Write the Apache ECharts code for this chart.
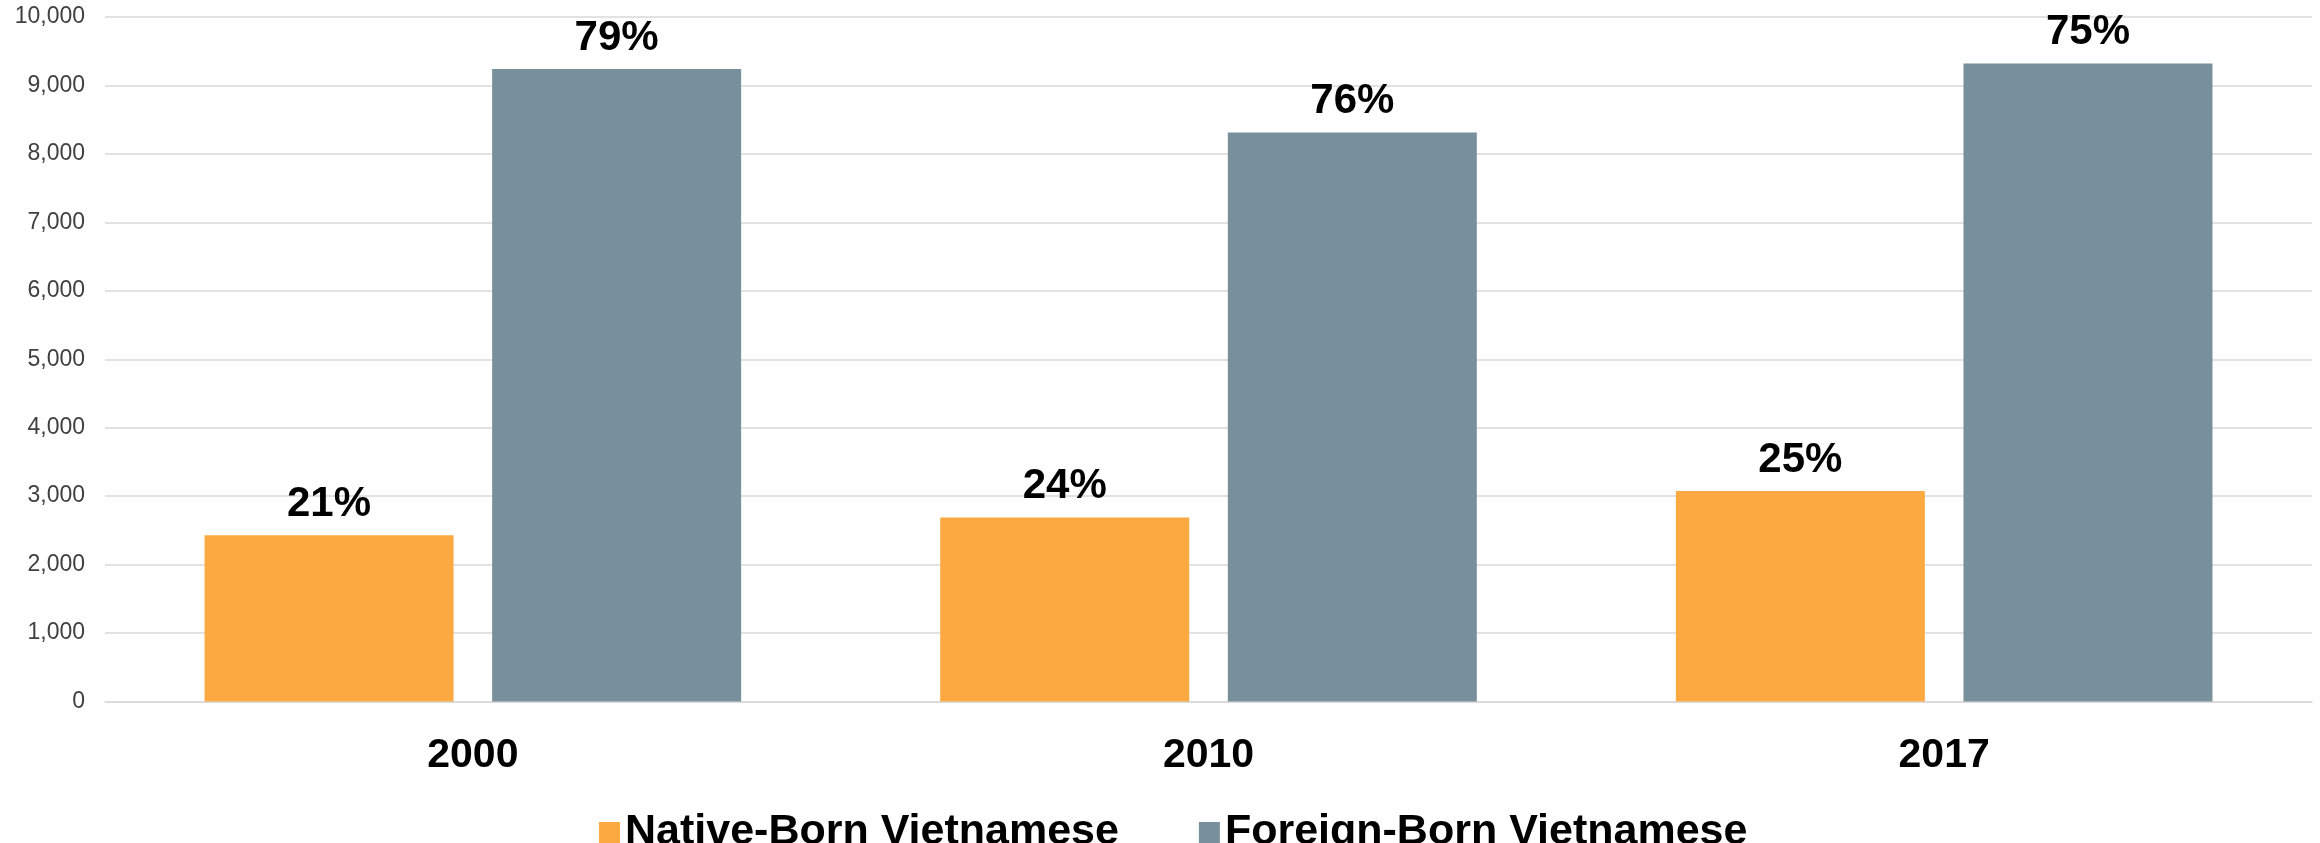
<!DOCTYPE html>
<html>
<head>
<meta charset="utf-8">
<script src="https://cdn.jsdelivr.net/npm/echarts@6/dist/echarts.min.js"></script>
<style>
  html, body { margin: 0; padding: 0; background: #fff; }
  #main { width: 2320px; height: 843px; }
</style>
</head>
<body>
<div id="main"></div>
<script>
var years = ['2000', '2010', '2017'];
var nativeBorn = [2428, 2687, 3076];
var foreignBorn = [9240, 8312, 9322];
var nativeShare = ['21%', '24%', '25%'];
var foreignShare = ['79%', '76%', '75%'];

var chartDom = document.getElementById('main');
var myChart = echarts.init(chartDom);
var font = 'Liberation Sans, Arial, sans-serif';

var barLabel = function (shares) {
    return {
        show: true,
        position: 'top',
        distance: 10,
        fontFamily: font,
        fontSize: 42,
        fontWeight: 'bold',
        color: '#000',
        formatter: function (p) { return shares[p.dataIndex]; }
    };
};

var option = {
    animation: false,
    backgroundColor: '#fff',
    grid: { left: 105, right: 8, top: 17, bottom: 141.5 },
    legend: {
        left: 594,
        top: 806,
        itemWidth: 21,
        itemHeight: 21,
        itemGap: 80,
        icon: 'rect',
        textStyle: { fontFamily: font, fontSize: 43, fontWeight: 'bold', color: '#000' },
        data: ['Native-Born Vietnamese', 'Foreign-Born Vietnamese']
    },
    xAxis: {
        type: 'category',
        data: years,
        axisTick: { show: false },
        axisLine: { lineStyle: { color: '#d9d9d9', width: 1.5 } },
        axisLabel: { margin: 34, fontFamily: font, fontSize: 41, fontWeight: 'bold', color: '#000' }
    },
    yAxis: {
        type: 'value',
        min: 0,
        max: 10000,
        interval: 1000,
        axisLine: { show: false },
        axisTick: { show: false },
        splitLine: { lineStyle: { color: '#d9d9d9', width: 1.5 } },
        axisLabel: {
            margin: 20,
            fontFamily: font,
            fontSize: 23,
            color: '#404040',
            formatter: function (v) { return v.toLocaleString('en-US'); }
        }
    },
    series: [
        {
            name: 'Native-Born Vietnamese',
            type: 'bar',
            data: nativeBorn,
            barWidth: 249,
            barGap: '15.5%',
            itemStyle: { color: '#FDA942' },
            label: barLabel(nativeShare)
        },
        {
            name: 'Foreign-Born Vietnamese',
            type: 'bar',
            data: foreignBorn,
            barWidth: 249,
            barGap: '15.5%',
            itemStyle: { color: '#78909C' },
            label: barLabel(foreignShare)
        }
    ]
};

option && myChart.setOption(option);
</script>
</body>
</html>
